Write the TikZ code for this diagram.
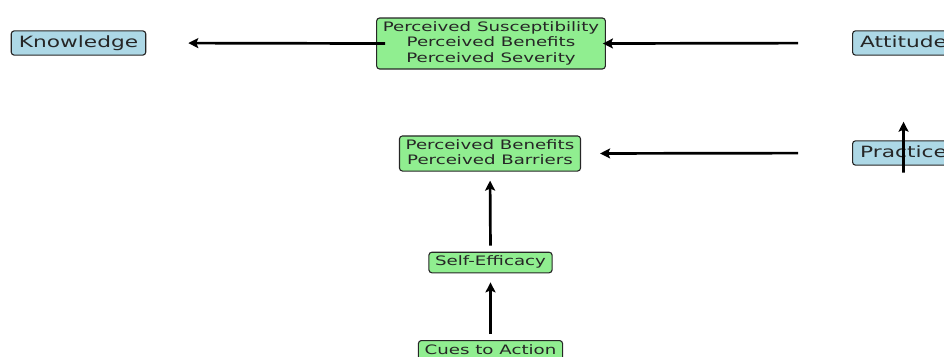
\documentclass[tikz,border=0pt]{standalone}
\usepackage{fontspec}
\setmainfont{DejaVu Sans}[FakeStretch=1.4]
\usetikzlibrary{arrows.meta}
\definecolor{lblue}{RGB}{173,216,230}
\definecolor{lgreen}{RGB}{144,238,144}
\tikzset{
  box/.style={draw=black!85, line width=1.1pt, rounded corners=3pt, align=center,
    text=black!85},
  bluebox/.style={box, fill=lblue, font=\fontsize{15.5}{18}\selectfont,
    inner xsep=7.6pt, inner ysep=4.4pt, text height=11.8pt, text depth=3.7pt},
  greenbox/.style={box, fill=lgreen, font=\fontsize{13}{15.5}\selectfont,
    inner xsep=6.2pt, inner ysep=3.8pt, text height=9.9pt, text depth=3.1pt},
  arr/.style={line width=2.7pt, -{Stealth[length=10pt,width=10pt,inset=2pt]}}
}
\begin{document}
\begin{tikzpicture}[x=1pt,y=-1pt]
\useasboundingbox (0,0) rectangle (944,356);
\clip (0,0) rectangle (944,356);
\node[bluebox] (know) at (78.5,43) {Knowledge};
\node[greenbox, text height=40.9pt, inner ysep=3.5pt] (top) at (491,43.5) {Perceived Susceptibility\\Perceived Benefits\\Perceived Severity};
\node[bluebox, anchor=west] (att) at (852,43) {Attitude};
\node[bluebox, anchor=west] (prac) at (852,153) {Practice};
\node[greenbox, text height=25.4pt, inner ysep=3.3pt] (pbb) at (490,153.5) {Perceived Benefits\\Perceived Barriers};
\node[greenbox] (se) at (490.5,262.5) {Self-Efficacy};
\node[greenbox, anchor=north] (cue) at (490.5,340) {Cues to Action};
\draw[arr, shorten <=-9pt, shorten >=42pt] (top.west) -- (know.east);
\draw[arr, shorten <=54pt, shorten >=-3pt] (att.west) -- (top.east);
\draw[arr, shorten <=54pt, shorten >=19pt] (prac.west) -- (pbb.east);
\draw[arr, shorten <=-7pt, shorten >=66pt] (prac.south) -- (att.south);
\draw[arr, shorten <=6pt, shorten >=9pt] (se.north) -- (pbb.south);
\draw[arr, shorten <=6pt, shorten >=9pt] (cue.north) -- (se.south);
\end{tikzpicture}
\end{document}
